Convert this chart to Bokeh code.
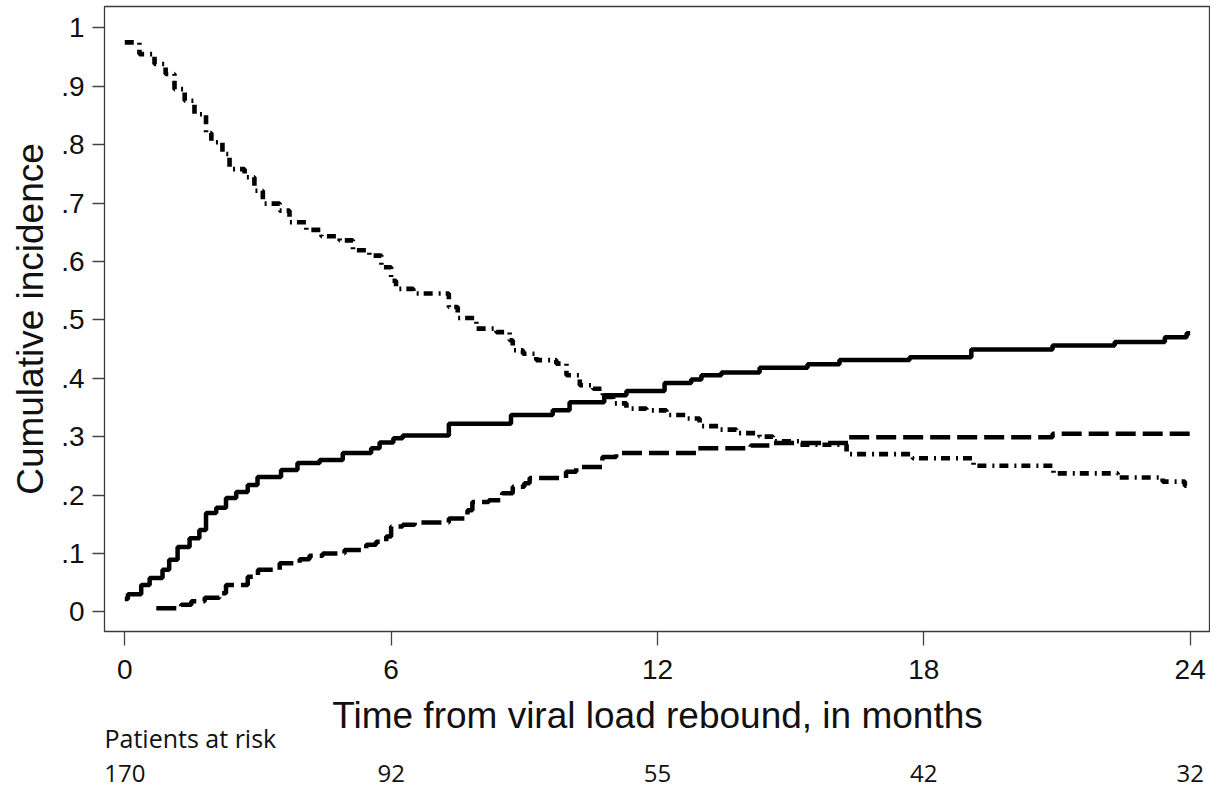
from bokeh.plotting import figure
from bokeh.models import Range1d, FixedTicker
from bokeh.layouts import column
from bokeh.core.properties import value
from bokeh.embed import file_html
from bokeh.resources import INLINE

# ---- data ----
solid_t = [0, 0.07, 0.37, 0.56, 0.85, 1.0, 1.19, 1.46, 1.68, 1.83, 2.06, 2.28, 2.51, 2.77, 2.99,
           3.52, 3.89, 4.39, 4.91, 5.55, 5.74, 6.05, 6.26, 7.3, 8.7, 9.64, 10.02, 10.8, 11.3,
           12.16, 12.76, 12.99, 13.44, 14.3, 15.38, 16.1, 17.68, 19.07, 20.9, 22.3, 23.43, 23.92, 24.0]
solid_v = [0.022, 0.03, 0.046, 0.058, 0.072, 0.089, 0.111, 0.126, 0.14, 0.169, 0.178, 0.195, 0.205, 0.217, 0.231,
           0.243, 0.255, 0.26, 0.272, 0.28, 0.29, 0.297, 0.302, 0.322, 0.337, 0.345, 0.359, 0.371, 0.378,
           0.392, 0.398, 0.405, 0.41, 0.418, 0.424, 0.431, 0.436, 0.449, 0.456, 0.462, 0.47, 0.477, 0.477]

dashed_t = [0.71, 1.27, 1.5, 1.8, 2.13, 2.28, 2.77, 3.0, 3.49, 3.94, 4.16, 4.46, 4.95, 5.44, 5.66, 5.89,
            6.0, 6.26, 6.53, 7.3, 7.72, 7.83, 8.2, 8.5, 8.74, 9.0, 9.12, 9.94, 10.17, 10.76, 11.07,
            12.87, 14.1, 14.6, 16.3, 20.9, 24.0]
dashed_v = [0.006, 0.012, 0.018, 0.024, 0.032, 0.046, 0.06, 0.072, 0.083, 0.09, 0.096, 0.1, 0.106, 0.115, 0.12, 0.129,
            0.146, 0.149, 0.153, 0.16, 0.174, 0.188, 0.191, 0.203, 0.214, 0.22, 0.229, 0.24, 0.248, 0.265, 0.272,
            0.28, 0.285, 0.289, 0.299, 0.305, 0.305]

dashdot_t = [0, 0.33, 0.67, 0.92, 1.12, 1.35, 1.57, 1.83, 1.95, 2.2, 2.36, 2.7, 2.92, 3.11, 3.49, 3.71,
             4.09, 4.43, 4.84, 5.14, 5.51, 5.78, 6.0, 6.11, 6.5, 7.3, 7.5, 7.92, 8.37, 8.67, 8.74, 8.97,
             9.27, 9.72, 9.95, 10.25, 10.55, 10.77, 11.0, 11.3, 11.75, 12.2, 12.65, 12.95, 13.4, 13.78,
             14.3, 14.6, 15.2, 16.26, 17.75, 19.12, 20.92, 22.37, 23.38, 23.88, 24.0]
dashdot_v = [0.975, 0.955, 0.938, 0.921, 0.895, 0.875, 0.852, 0.82, 0.804, 0.784, 0.758, 0.744, 0.721, 0.699, 0.687, 0.667,
             0.654, 0.643, 0.636, 0.619, 0.61, 0.59, 0.567, 0.553, 0.545, 0.522, 0.503, 0.485, 0.479, 0.465, 0.448, 0.442,
             0.431, 0.425, 0.405, 0.388, 0.382, 0.368, 0.357, 0.348, 0.345, 0.337, 0.331, 0.318, 0.312, 0.306,
             0.30, 0.292, 0.286, 0.27, 0.263, 0.25, 0.237, 0.23, 0.223, 0.216, 0.216]

x_ticks = [0, 6, 12, 18, 24]
y_ticks = [0, 0.1, 0.2, 0.3, 0.4, 0.5, 0.6, 0.7, 0.8, 0.9, 1]
y_tick_labels = ["0", ".1", ".2", ".3", ".4", ".5", ".6", ".7", ".8", ".9", "1"]
x_title = "Time from viral load rebound, in months"
y_title = "Cumulative incidence"

risk_title = "Patients at risk"
risk_times = [0, 6, 12, 18, 24]
risk_counts = [170, 92, 55, 42, 32]

X0, X1 = -0.457, 24.458
FIG_W = 1210
LEFT = 104
SANS = "Liberation Sans"
TABLE_FONT = "Open Sans"
INK = "#111111"

# ---- main plot ----
p = figure(width=FIG_W, height=692, output_backend="svg", toolbar_location=None,
           x_range=Range1d(X0, X1), y_range=Range1d(-0.0337, 1.0365),
           min_border_left=LEFT, min_border_right=0, min_border_top=6, min_border_bottom=61)
p.grid.visible = False
p.background_fill_color = "white"
p.border_fill_color = "white"
p.outline_line_color = "#3a3a3a"
p.outline_line_width = 1.3

for ax in (p.xaxis[0], p.yaxis[0]):
    ax.axis_line_color = None
    ax.major_tick_line_color = "#444444"
    ax.major_tick_line_width = 1.3
    ax.major_tick_in = 0
    ax.minor_tick_line_color = None
    ax.major_label_text_font = SANS
    ax.major_label_text_font_size = "28px"
    ax.major_label_text_color = INK

p.xaxis.ticker = FixedTicker(ticks=x_ticks)
p.xaxis.major_tick_out = 14
p.xaxis.major_label_standoff = 14

p.yaxis.ticker = FixedTicker(ticks=y_ticks)
p.yaxis.major_label_overrides = {v: lab for v, lab in zip(y_ticks, y_tick_labels)}
p.yaxis.major_tick_out = 12
p.yaxis.major_label_standoff = 8
p.yaxis.axis_label = y_title
p.yaxis.axis_label_standoff = 7
p.yaxis.axis_label_text_font = SANS
p.yaxis.axis_label_text_font_size = "37px"
p.yaxis.axis_label_text_font_style = "normal"
p.yaxis.axis_label_text_color = INK

p.step(solid_t, solid_v, mode="after", line_color="black", line_width=4.5)
p.step(dashed_t, dashed_v, mode="after", line_color="black", line_width=4.5, line_dash="20 7")
p.step(dashdot_t, dashdot_v, mode="after", line_color="black", line_width=4.6, line_dash="9 6 2 5")

# ---- x title and patients-at-risk table (below the plot, same x scale) ----
q = figure(width=FIG_W, height=97, output_backend="svg", toolbar_location=None,
           x_range=p.x_range, y_range=Range1d(97, 0),
           x_axis_location=None, y_axis_location=None,
           min_border_left=LEFT, min_border_right=0, min_border_top=0, min_border_bottom=0)
q.grid.visible = False
q.outline_line_color = None
q.background_fill_color = "white"
q.border_fill_color = "white"

q.text(x=[(X0 + X1) / 2], y=[23], text=[x_title], text_font=value(SANS), text_font_size="37px",
       text_color=INK, text_align="center", text_baseline="alphabetic")
q.text(x=[X0], y=[45.5], text=[risk_title], text_font=value(TABLE_FONT), text_font_size="25px",
       text_color=INK, text_align="left", text_baseline="alphabetic")
q.text(x=risk_times, y=[80.5] * len(risk_times), text=[str(n) for n in risk_counts],
       text_font=value(TABLE_FONT), text_font_size="24px", text_color=INK,
       text_align="center", text_baseline="alphabetic")

layout = column(p, q, spacing=0)
open("out.html", "w").write(file_html(layout, INLINE))
